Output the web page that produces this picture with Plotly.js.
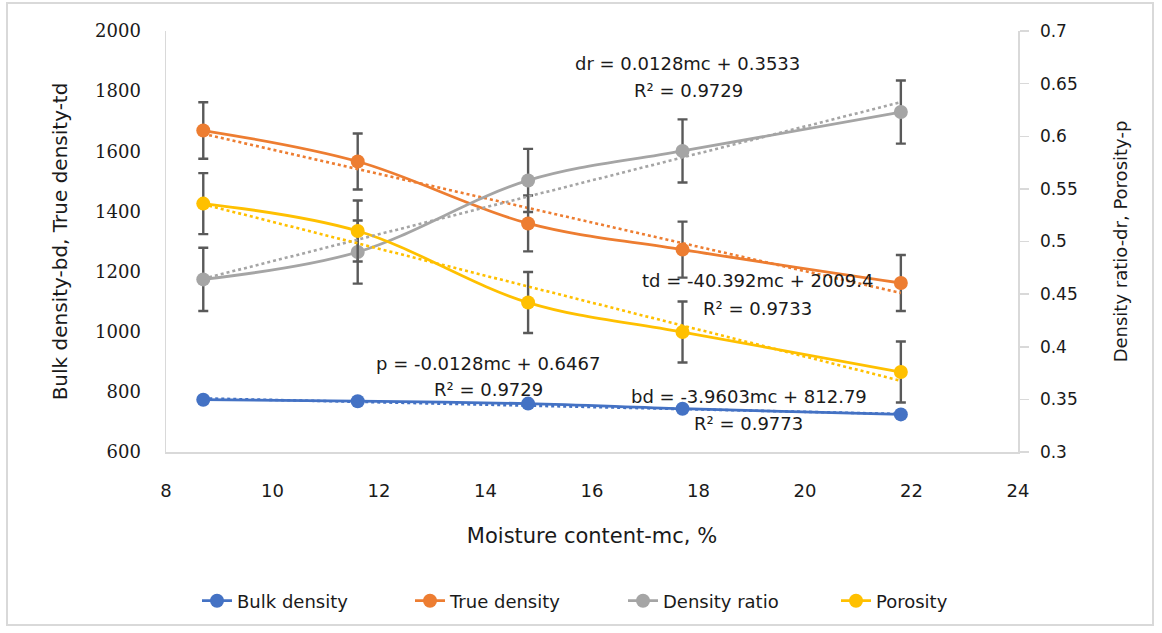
<!DOCTYPE html>
<html>
<head>
<meta charset="utf-8">
<script src="https://cdn.plot.ly/plotly-3.0.1.min.js"></script>
<style>
  html, body { margin: 0; padding: 0; background: #ffffff; }
  #wrap { position: relative; width: 1162px; height: 633px; }
  #chart { position: absolute; left: 0; top: 0; width: 1162px; height: 633px; }
  #frame { position: absolute; left: 6px; top: 2px; width: 1148px; height: 624px;
           border: 2px solid #d9d9d9; pointer-events: none; box-sizing: border-box; }
</style>
</head>
<body>
<div id="wrap"><div id="chart"></div><div id="frame"></div></div>
<script>
// ---- data ----
const moisture = [8.7, 11.6, 14.8, 17.7, 21.8];
const bulkDensity = [774, 769, 761, 744, 725];
const trueDensity = [1669, 1566, 1360, 1273, 1162];
const densityRatio = [0.464, 0.490, 0.558, 0.586, 0.623];
const porosity = [0.536, 0.510, 0.442, 0.414, 0.376];
const trueDensityErr = [94, 93, 93, 93, 93];
const densityRatioErr = [0.030, 0.030, 0.030, 0.030, 0.030];
const porosityErr = [0.029, 0.029, 0.029, 0.029, 0.029];
// linear trend lines (as printed on the chart): slope, intercept
const seriesNames = ["Bulk density", "True density", "Density ratio", "Porosity"];
const trendSlope = [-3.9603, -40.392, 0.0128, -0.0128];
const trendIntercept = [812.79, 2009.4, 0.3533, 0.6467];
const trendR2 = ["0.9773", "0.9733", "0.9729", "0.9729"];
const trendPrefix = ["bd", "td", "dr", "p"];
const xTicks = [8, 10, 12, 14, 16, 18, 20, 22, 24];

// ---- styling ----
const colors = ["#4472C4", "#ED7D31", "#A5A5A5", "#FFC000"];
const FONT = "DejaVu Sans, Liberation Sans, sans-serif";
const L = 166, R = 1018, T = 31, B = 452;
const px2x = p => (p - L) / (R - L);
const px2y = p => (B - p) / (B - T);

const series = [bulkDensity, trueDensity, densityRatio, porosity];
const errs = [null, trueDensityErr, densityRatioErr, porosityErr];
const axes = ["y", "y", "y2", "y2"];

const traces = [];
series.forEach((vals, i) => {
  const t = {
    x: moisture, y: vals, name: seriesNames[i], yaxis: axes[i],
    type: "scatter", mode: "lines+markers",
    line: { color: colors[i], width: 2.8, shape: "spline", smoothing: 1 },
    marker: { color: colors[i], size: 14, symbol: "circle" },
    showlegend: true
  };
  if (errs[i]) {
    t.error_y = { type: "data", array: errs[i], visible: true,
                  color: "#595959", thickness: 2.4, width: 5 };
  }
  traces.push(t);
});
// trend lines
series.forEach((vals, i) => {
  const xs = [moisture[0], moisture[moisture.length - 1]];
  traces.push({
    x: xs, y: xs.map(v => trendSlope[i] * v + trendIntercept[i]),
    yaxis: axes[i], type: "scatter", mode: "lines", showlegend: false,
    hoverinfo: "skip",
    line: { color: colors[i], width: 2.6, dash: "dot" }
  });
});

function eqText(i) {
  const s = trendSlope[i], c = trendIntercept[i];
  return trendPrefix[i] + " = " + s + "mc + " + c;
}
// annotation pixel positions [line1x, line1y, line2x, line2y]
const annPos = [
  [749, 396, 748, 423],   // bd
  [757, 280, 757, 308],   // td
  [687, 63, 688, 90],     // dr
  [488, 363, 488, 389]    // p
];
const annotations = [];
annPos.forEach((p, i) => {
  annotations.push({ xref: "paper", yref: "paper", x: px2x(p[0]), y: px2y(p[1]),
    text: eqText(i), showarrow: false, xanchor: "center", yanchor: "middle",
    font: { family: FONT, size: 18, color: "#1a1a1a" } });
  annotations.push({ xref: "paper", yref: "paper", x: px2x(p[2]), y: px2y(p[3]),
    text: "R² = " + trendR2[i], showarrow: false, xanchor: "center", yanchor: "middle",
    font: { family: FONT, size: 18, color: "#1a1a1a" } });
});

const layout = {
  width: 1162, height: 633,
  margin: { l: L, r: 1162 - R, t: T, b: 633 - B, pad: 0 },
  paper_bgcolor: "rgba(0,0,0,0)", plot_bgcolor: "#ffffff",
  showlegend: true,
  xaxis: {
    range: [8, 24], tickvals: xTicks, ticktext: xTicks.map(String),
    showline: true, linecolor: "#d9d9d9", linewidth: 1.5,
    showgrid: false, zeroline: false, ticks: "", ticklabelstandoff: 22,
    tickfont: { family: FONT, size: 18, color: "#1a1a1a" },
    title: { text: "Moisture content-mc, %", standoff: 28,
             font: { family: FONT, size: 21, color: "#1a1a1a" } }
  },
  yaxis: {
    range: [600, 2000], dtick: 200, showline: true, linecolor: "#d9d9d9", linewidth: 1.5,
    showgrid: false, zeroline: false, ticks: "", ticklabelstandoff: 20,
    tickfont: { family: "DejaVu Serif, Liberation Serif, serif", size: 18, color: "#1a1a1a" },
    title: { text: "Bulk density-bd, True density-td", standoff: 22,
             font: { family: FONT, size: 20, color: "#1a1a1a" } }
  },
  yaxis2: {
    range: [0.3, 0.7], dtick: 0.05, overlaying: "y", side: "right",
    showline: true, linecolor: "#d9d9d9", linewidth: 1.5,
    showgrid: false, zeroline: false, ticks: "outside", ticklen: 9,
    tickcolor: "#d9d9d9", tickwidth: 1.5, ticklabelstandoff: 8,
    tickfont: { family: FONT, size: 17, color: "#1a1a1a" },
    title: { text: "Density ratio-dr, Porosity-p", standoff: 37,
             font: { family: FONT, size: 18, color: "#1a1a1a" } }
  },
  legend: {
    orientation: "h", x: px2x(197), xanchor: "left", y: px2y(601), yanchor: "middle",
    entrywidth: 168, entrywidthmode: "pixels",
    font: { family: FONT, size: 18, color: "#1a1a1a" }, bgcolor: "rgba(0,0,0,0)"
  },
  annotations: annotations
};

Plotly.newPlot("chart", traces, layout, { displayModeBar: false, staticPlot: true });
</script>
</body>
</html>
